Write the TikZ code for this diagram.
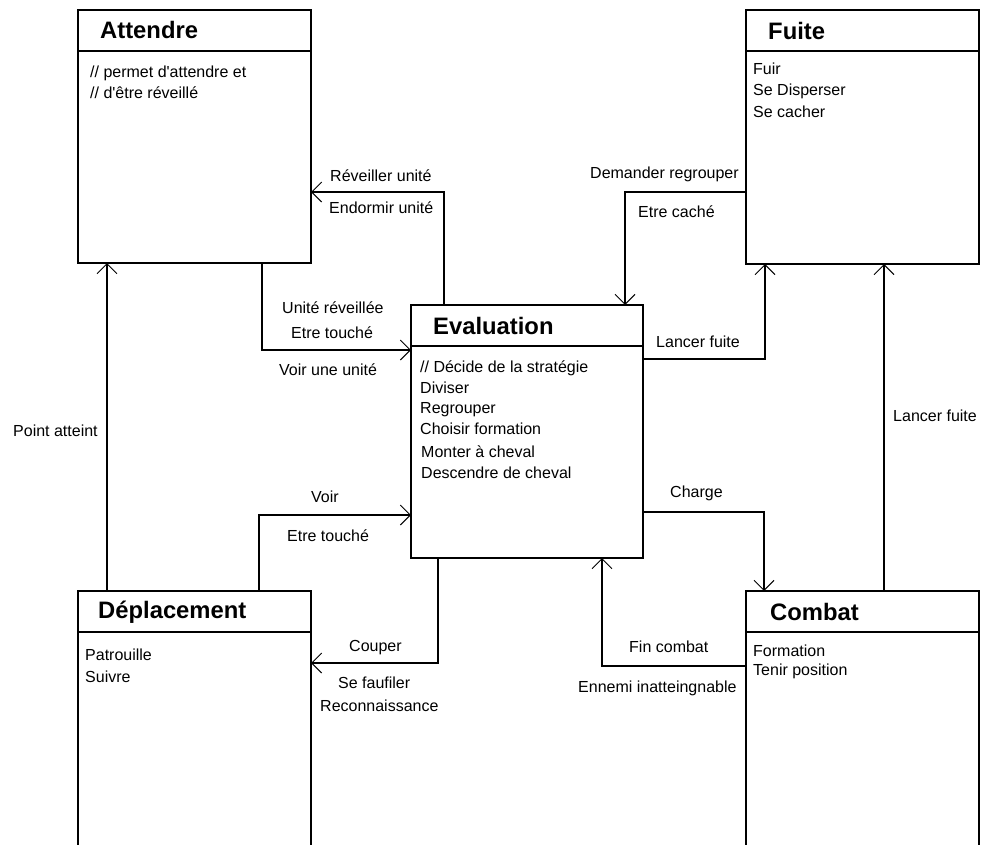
\documentclass[tikz,border=0pt]{standalone}
\usepackage{fontspec}
\setmainfont{Liberation Sans}
\usetikzlibrary{arrows.meta,calc}
\tikzset{
  box/.style={draw, line width=1.2pt, inner sep=0pt, outer sep=0pt, anchor=north west},
  rule/.style={line width=1.2pt},
  title/.style={font=\fontsize{23.8}{28}\selectfont\bfseries, inner sep=0pt, anchor=base west},
  body/.style={font=\fontsize{16}{21}\selectfont, inner sep=0pt, anchor=base west},
  lbl/.style={font=\fontsize{16}{21}\selectfont, inner sep=0pt, anchor=base west},
  arr/.style={line width=1.2pt, -{Straight Barb[length=10pt,width=20pt,line width=1pt]}},
}
\begin{document}
\begin{tikzpicture}[x=1pt,y=-1pt]
\useasboundingbox (0,0) rectangle (981,844);
\fill[white] (0,0) rectangle (981,844);
\clip (0,0) rectangle (981,844);

% state boxes
\node[box, minimum width=233pt, minimum height=253pt] (attendre) at (78,10) {};
\node[box, minimum width=233pt, minimum height=254pt] (fuite) at (746,10) {};
\node[box, minimum width=232pt, minimum height=253pt] (eval) at (411,305) {};
\node[box, minimum width=233pt, minimum height=280pt] (depl) at (78,591) {};
\node[box, minimum width=233pt, minimum height=280pt] (combat) at (746,591) {};

% title separators
\foreach \b in {attendre,fuite,eval,depl,combat}
  \draw[rule] ($(\b.north west)+(0,41)$) -- ($(\b.north east)+(0,41)$);

% titles
\node[title] (attendre-t) at ($(attendre.north west)+(22,28)$) {Attendre};
\node[title] (fuite-t) at ($(fuite.north west)+(22,29)$) {Fuite};
\node[title] (eval-t) at ($(eval.north west)+(22,29)$) {Evaluation};
\node[title] (depl-t) at ($(depl.north west)+(20,27)$) {Déplacement};
\node[title] (combat-t) at ($(combat.north west)+(24,29)$) {Combat};

% box contents
\node[body] (attendre-1) at ($(attendre.north west)+(12,67)$) {// permet d\textquotesingle attendre et};
\node[body] (attendre-2) at ($(attendre.north west)+(12,88)$) {// d\textquotesingle être réveillé};

\node[body] (fuite-1) at ($(fuite.north west)+(7,64)$) {Fuir};
\node[body] (fuite-2) at ($(fuite.north west)+(7,85)$) {Se Disperser};
\node[body] (fuite-3) at ($(fuite.north west)+(7,107)$) {Se cacher};

\node[body] (eval-1) at ($(eval.north west)+(9,67)$) {// Décide de la stratégie};
\node[body] (eval-2) at ($(eval.north west)+(9,88)$) {Diviser};
\node[body] (eval-3) at ($(eval.north west)+(9,108)$) {Regrouper};
\node[body] (eval-4) at ($(eval.north west)+(9,129)$) {Choisir formation};
\node[body] (eval-5) at ($(eval.north west)+(10,152)$) {Monter à cheval};
\node[body] (eval-6) at ($(eval.north west)+(10,173)$) {Descendre de cheval};

\node[body] (depl-1) at ($(depl.north west)+(7,69)$) {Patrouille};
\node[body] (depl-2) at ($(depl.north west)+(7,91)$) {Suivre};

\node[body] (combat-1) at ($(combat.north west)+(7,65)$) {Formation};
\node[body] (combat-2) at ($(combat.north west)+(7,84)$) {Tenir position};

% transitions
\draw[arr] ($(eval.north west)+(33,0)$) |- ($(attendre.north east)+(0,182)$);
\draw[arr] ($(attendre.south west)+(184,0)$) |- ($(eval.north west)+(0,45)$);
\draw[arr] ($(depl.north west)+(29,0)$) -- ($(attendre.south west)+(29,0)$);
\draw[arr] ($(depl.north west)+(181,0)$) |- ($(eval.north west)+(0,210)$);
\draw[arr] ($(eval.south west)+(27,0)$) |- ($(depl.north east)+(0,72)$);
\draw[arr] ($(fuite.north west)+(0,182)$) -| ($(eval.north west)+(214,0)$);
\draw[arr] ($(eval.north east)+(0,54)$) -| ($(fuite.south west)+(19,0)$);
\draw[arr] ($(eval.north east)+(0,207)$) -| ($(combat.north west)+(18,0)$);
\draw[arr] ($(combat.north west)+(138,0)$) -- ($(fuite.south west)+(138,0)$);
\draw[arr] ($(combat.north west)+(0,75)$) -| ($(eval.south west)+(191,0)$);

% transition labels
\node[lbl] (l-reveiller) at (330,181) {Réveiller unité};
\node[lbl] (l-endormir) at (329,213) {Endormir unité};
\node[lbl] (l-reveillee) at (282,313) {Unité réveillée};
\node[lbl] (l-touche1) at (291,338) {Etre touché};
\node[lbl] (l-voirunite) at (279,375) {Voir une unité};
\node[lbl] (l-voir) at (311,502) {Voir};
\node[lbl] (l-touche2) at (287,541) {Etre touché};
\node[lbl] (l-couper) at (349,651) {Couper};
\node[lbl] (l-faufiler) at (338,688) {Se faufiler};
\node[lbl] (l-recon) at (320,711) {Reconnaissance};
\node[lbl] (l-charge) at (670,497) {Charge};
\node[lbl] (l-fin) at (629,652) {Fin combat};
\node[lbl] (l-ennemi) at (578,692) {Ennemi inatteingnable};
\node[lbl] (l-fuite1) at (656,347) {Lancer fuite};
\node[lbl] (l-fuite2) at (893,421) {Lancer fuite};
\node[lbl] (l-point) at (13,436) {Point atteint};
\node[lbl] (l-demander) at (590,178) {Demander regrouper};
\node[lbl] (l-cache) at (638,217) {Etre caché};
\end{tikzpicture}
\end{document}
